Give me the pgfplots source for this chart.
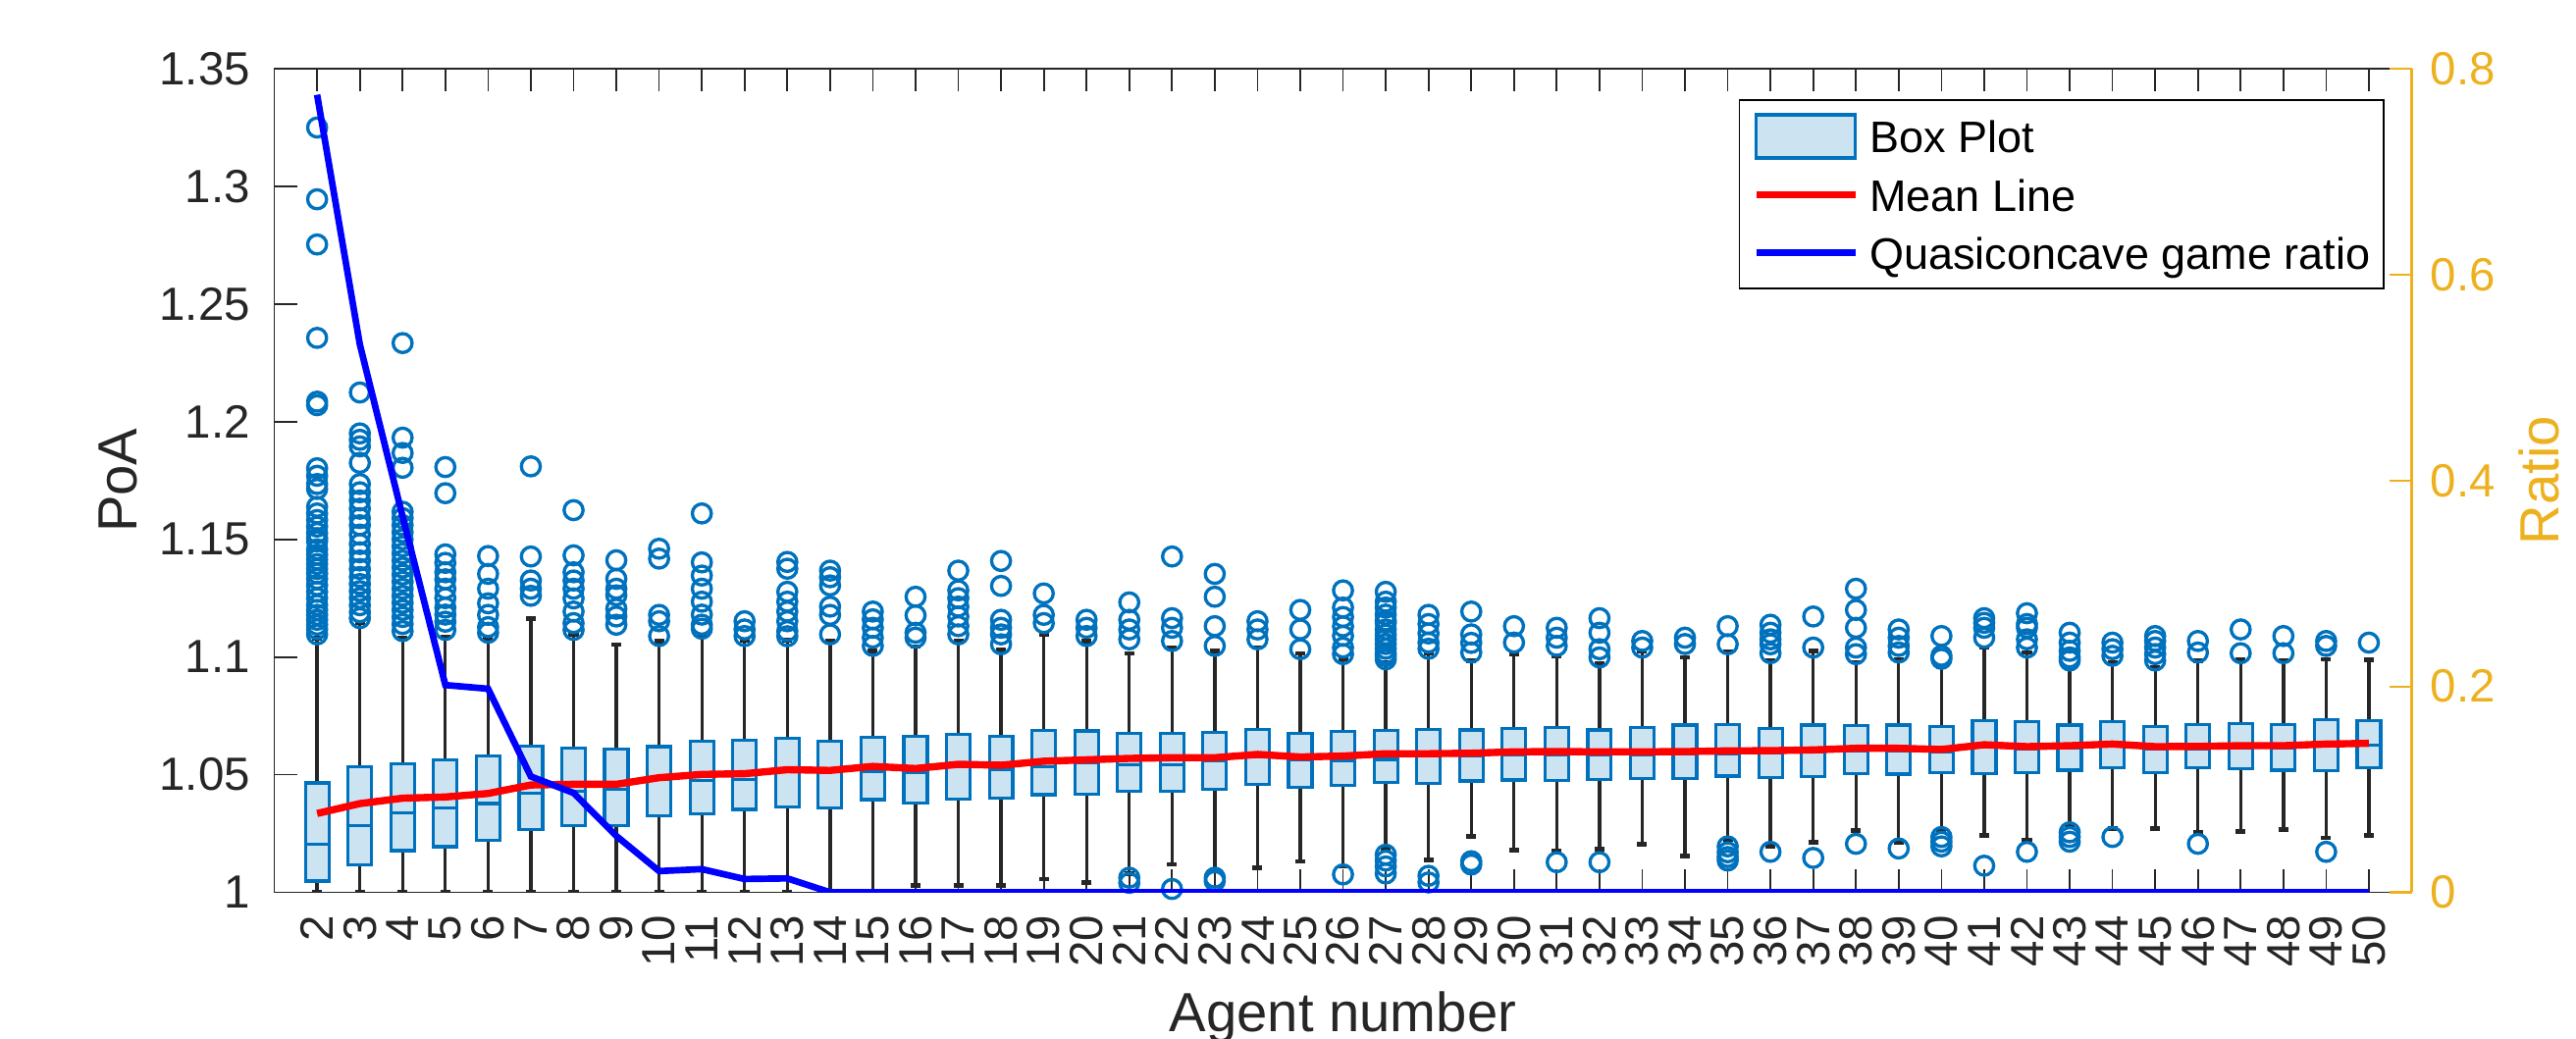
\documentclass[border=0pt]{standalone}
\usepackage{pgfplots}
\pgfplotsset{compat=1.18}
\usepackage{fontspec}
\setmainfont{Liberation Sans}
\definecolor{boxblue}{HTML}{0072BD}
\definecolor{boxfill}{HTML}{CCE3F2}
\definecolor{whisk}{HTML}{262626}
\definecolor{axgray}{HTML}{262626}
\definecolor{ratioc}{HTML}{EDB120}
\pgfplotsset{
  wsk/.style={draw=whisk, line width=0.95pt, mark=none},
  cap/.style={draw=whisk, line width=1.3pt, mark=none},
  bxs/.style={draw=boxblue, fill=boxfill, line width=0.9pt, mark=none},
  med/.style={draw=boxblue, line width=0.9pt, mark=none},
  outl/.style={only marks, mark=o, mark size=2.75pt,
    mark options={draw=boxblue, line width=0.95pt, fill=none}},
}
% #1 position, #2 lower whisker, #3 Q1, #4 median, #5 Q3, #6 upper whisker, #7 outliers
\newcommand{\bx}[7]{%
  \pgfmathsetmacro{\xl}{#1-0.275}%
  \pgfmathsetmacro{\xr}{#1+0.275}%
  \pgfmathsetmacro{\cl}{#1-0.115}%
  \pgfmathsetmacro{\cr}{#1+0.115}%
  \edef\doplots{%
    \noexpand\addplot[wsk] coordinates {(#1,#2) (#1,#3)};
    \noexpand\addplot[wsk] coordinates {(#1,#5) (#1,#6)};
    \noexpand\addplot[cap] coordinates {(\cl,#2) (\cr,#2)};
    \noexpand\addplot[cap] coordinates {(\cl,#6) (\cr,#6)};
    \noexpand\addplot[bxs] coordinates {(\xl,#3) (\xr,#3) (\xr,#5) (\xl,#5)} -- cycle;
    \noexpand\addplot[med] coordinates {(\xl,#4) (\xr,#4)};
  }\doplots
  \addplot[outl] table[row sep=\\, x expr=#1, y index=0] {data\\ #7};}
\begin{document}
\begin{tikzpicture}
\useasboundingbox (-27.96mm,-14.95mm) rectangle (234.55mm,90.95mm);
\begin{axis}[
  scale only axis, width=217.8mm, height=83.95mm,
  xmin=1, xmax=51, ymin=1, ymax=1.35,
  xtick={2,...,50},
  xtick pos=both, ytick pos=left,
  ytick={1,1.05,1.1,1.15,1.2,1.25,1.3,1.35},
  yticklabels={1,1.05,1.1,1.15,1.2,1.25,1.3,1.35},
  tick align=inside, major tick length=2.3mm,
  tick style={draw=axgray, line width=0.5pt},
  axis line style={draw=axgray, line width=0.5pt},
  /pgf/number format/assume math mode=true,
  every tick label/.append style={font=\fontsize{13.5}{15}\selectfont, text=axgray},
  xticklabel style={rotate=90, anchor=east, inner sep=0pt},
  xticklabel shift=2.25mm,
  yticklabel style={inner sep=0pt}, yticklabel shift=2.4mm,
  xlabel={Agent number}, ylabel={PoA},
  every axis x label/.style={at={(axis description cs:0.5,-0.1686)}, anchor=base,
    font=\fontsize{16}{19}\selectfont, text=axgray},
  every axis y label/.style={at={(axis description cs:-0.073,0.5)}, rotate=90,
    anchor=center, font=\fontsize{16}{19}\selectfont, text=axgray},
]
\bx{2}{1.0}{1.0048}{1.0203}{1.0465}{1.108}{1.325\\1.2945\\1.2753\\1.2356\\1.2085\\1.207\\1.1802\\1.177\\1.1735\\1.1714\\1.1638\\1.161\\1.1582\\1.1554\\1.1527\\1.1505\\1.1492\\1.1457\\1.1435\\1.1415\\1.1395\\1.1374\\1.1355\\1.1332\\1.1305\\1.1277\\1.125\\1.1221\\1.12\\1.1179\\1.1158\\1.1137\\1.1118\\1.1096\\}
\bx{3}{1.0}{1.0115}{1.0282}{1.0535}{1.1144}{1.2124\\1.195\\1.1923\\1.1895\\1.1825\\1.1735\\1.170\\1.1665\\1.163\\1.159\\1.156\\1.152\\1.148\\1.1445\\1.141\\1.1374\\1.134\\1.131\\1.128\\1.125\\1.122\\1.119\\1.1165\\}
\bx{4}{1.0}{1.0177}{1.0338}{1.0546}{1.108}{1.2334\\1.1932\\1.1867\\1.1804\\1.1617\\1.159\\1.156\\1.153\\1.15\\1.147\\1.144\\1.141\\1.138\\1.135\\1.132\\1.129\\1.126\\1.123\\1.12\\1.117\\1.114\\1.111\\}
\bx{5}{1.0}{1.0194}{1.036}{1.0563}{1.1085}{1.1807\\1.1696\\1.1436\\1.14\\1.136\\1.133\\1.129\\1.125\\1.121\\1.118\\1.115\\1.1115\\}
\bx{6}{1.0}{1.0222}{1.0377}{1.058}{1.108}{1.1429\\1.1353\\1.129\\1.1228\\1.1179\\1.1127\\1.1103\\}
\bx{7}{1.0}{1.0265}{1.042}{1.0622}{1.1162}{1.181\\1.1427\\1.1325\\1.129\\1.126\\}
\bx{8}{1.0}{1.0282}{1.0428}{1.0614}{1.1095}{1.1624\\1.1432\\1.136\\1.1325\\1.129\\1.1249\\1.1193\\1.1144\\1.1115\\}
\bx{9}{1.0}{1.0282}{1.0436}{1.0608}{1.1052}{1.1411\\1.1332\\1.129\\1.1262\\1.1205\\1.1172\\1.1137\\}
\bx{10}{1.0}{1.0324}{1.0481}{1.0619}{1.1068}{1.146\\1.1418\\1.1179\\1.1152\\1.1089\\}
\bx{11}{1.0}{1.0335}{1.0476}{1.0642}{1.1095}{1.161\\1.1402\\1.1346\\1.129\\1.1235\\1.118\\1.1137\\1.112\\}
\bx{12}{1.0}{1.0352}{1.0481}{1.0645}{1.107}{1.1152\\1.1117\\1.1089\\}
\bx{13}{1.0}{1.0363}{1.0518}{1.0653}{1.1071}{1.1404\\1.1375\\1.1277\\1.1235\\1.1193\\1.1152\\1.111\\1.1088\\}
\bx{14}{1.0}{1.0358}{1.0512}{1.0642}{1.1068}{1.1367\\1.1339\\1.1304\\1.1214\\1.1179\\1.1096\\}
\bx{15}{1.0}{1.0394}{1.0515}{1.0659}{1.1025}{1.1193\\1.116\\1.1124\\1.1082\\1.1047\\}
\bx{16}{1.0028}{1.038}{1.0509}{1.0662}{1.1045}{1.1256\\1.1177\\1.1103\\1.1082\\}
\bx{17}{1.0028}{1.0397}{1.0535}{1.0672}{1.1068}{1.1367\\1.1283\\1.125\\1.1214\\1.1172\\1.1131\\1.1096\\}
\bx{18}{1.0028}{1.0401}{1.0523}{1.0662}{1.103}{1.1408\\1.1302\\1.1158\\1.1124\\1.1096\\1.1054\\}
\bx{19}{1.0056}{1.0415}{1.0533}{1.0689}{1.1096}{1.127\\1.1179\\1.1144\\}
\bx{20}{1.0042}{1.0418}{1.055}{1.0686}{1.1068}{1.1158\\1.1124\\1.1089\\}
\bx{21}{1.008}{1.0429}{1.0543}{1.0677}{1.1015}{1.1232\\1.1158\\1.1117\\1.1075\\1.0062\\1.004\\}
\bx{22}{1.0118}{1.0431}{1.0543}{1.0677}{1.104}{1.1427\\1.1165\\1.1124\\1.1068\\1.0014\\}
\bx{23}{1.009}{1.0436}{1.056}{1.068}{1.1026}{1.1353\\1.1256\\1.1131\\1.1047\\1.0062\\1.0048\\}
\bx{24}{1.0104}{1.0457}{1.0575}{1.0693}{1.104}{1.1152\\1.1117\\1.1075\\}
\bx{25}{1.0131}{1.0447}{1.0565}{1.0677}{1.1015}{1.12\\1.1117\\1.1033\\}
\bx{26}{1.011}{1.0454}{1.0557}{1.0682}{1.0991}{1.1283\\1.121\\1.117\\1.113\\1.109\\1.104\\1.1012\\1.0076\\}
\bx{27}{1.0185}{1.0468}{1.0565}{1.0687}{1.0975}{1.1277\\1.1235\\1.121\\1.118\\1.1155\\1.1145\\1.1117\\1.1095\\1.1075\\1.1055\\1.1035\\1.1015\\1.1005\\1.099\\1.016\\1.0135\\1.011\\1.008\\}
\bx{28}{1.0137}{1.0464}{1.058}{1.0693}{1.1015}{1.1179\\1.114\\1.11\\1.1061\\1.1035\\1.007\\1.0042\\}
\bx{29}{1.0238}{1.0473}{1.058}{1.069}{1.0985}{1.1193\\1.1096\\1.106\\1.1019\\1.0132\\1.0118\\}
\bx{30}{1.0179}{1.0477}{1.0585}{1.0697}{1.1012}{1.1131\\1.1061\\}
\bx{31}{1.0175}{1.0475}{1.0585}{1.07}{1.1005}{1.1124\\1.1082\\1.1047\\1.0128\\}
\bx{32}{1.0183}{1.0479}{1.0585}{1.069}{1.0971}{1.1165\\1.1103\\1.1033\\1.0998\\1.0128\\}
\bx{33}{1.0205}{1.0484}{1.0585}{1.0701}{1.1024}{1.1068\\1.104\\}
\bx{34}{1.0154}{1.0484}{1.0588}{1.0711}{1.0998}{1.1082\\1.1055\\}
\bx{35}{1.0225}{1.0494}{1.059}{1.0714}{1.1024}{1.1131\\1.1054\\1.0195\\1.017\\1.015\\1.0135\\}
\bx{36}{1.0197}{1.0489}{1.0592}{1.0697}{1.0985}{1.1137\\1.1103\\1.1075\\1.1054\\1.1016\\1.0172\\}
\bx{37}{1.0213}{1.0491}{1.0595}{1.0711}{1.1026}{1.1172\\1.104\\1.0146\\}
\bx{38}{1.0262}{1.0505}{1.0602}{1.0707}{1.0978}{1.129\\1.12\\1.1124\\1.104\\1.1012\\1.0206\\}
\bx{39}{1.0213}{1.0502}{1.0602}{1.0711}{1.0991}{1.1117\\1.1082\\1.1047\\1.1019\\1.0186\\}
\bx{40}{1.0265}{1.0508}{1.0597}{1.0703}{1.0957}{1.1089\\1.1005\\1.0992\\1.0235\\1.0215\\1.0195\\}
\bx{41}{1.0241}{1.0505}{1.0617}{1.073}{1.104}{1.1165\\1.1145\\1.1124\\1.1082\\1.0113\\}
\bx{42}{1.0223}{1.0509}{1.0609}{1.0725}{1.102}{1.1186\\1.114\\1.1124\\1.1075\\1.104\\1.0172\\}
\bx{43}{1.028}{1.0519}{1.0613}{1.0711}{1.0957}{1.1103\\1.1061\\1.1026\\1.0998\\1.0985\\1.0255\\1.0235\\1.0215\\}
\bx{44}{1.027}{1.0529}{1.062}{1.0725}{1.0978}{1.1061\\1.1033\\1.1005\\1.0235\\}
\bx{45}{1.0272}{1.0509}{1.0609}{1.0703}{1.0957}{1.1089\\1.1068\\1.104\\1.1012\\1.0985\\}
\bx{46}{1.0255}{1.0529}{1.061}{1.0714}{1.0985}{1.1068\\1.1019\\1.0206\\}
\bx{47}{1.0258}{1.0526}{1.0613}{1.0716}{1.099}{1.1117\\1.1016\\}
\bx{48}{1.0266}{1.0519}{1.0613}{1.0714}{1.0985}{1.1089\\1.1016\\}
\bx{49}{1.0231}{1.0516}{1.062}{1.0732}{1.0991}{1.1068\\1.1047\\1.0172\\}
\bx{50}{1.0241}{1.0529}{1.0627}{1.073}{1.0987}{1.1061\\}
\addplot[red, line width=2.1pt, mark=none] coordinates {
(2,1.0335) (3,1.0377) (4,1.04) (5,1.0405) (6,1.042) (7,1.0456) (8,1.0459) (9,1.0459)
(10,1.0487) (11,1.0501) (12,1.0504) (13,1.0521) (14,1.0518) (15,1.0535) (16,1.0526)
(17,1.0544) (18,1.054) (19,1.0557) (20,1.0563) (21,1.0569) (22,1.0572) (23,1.0572)
(24,1.0586) (25,1.0575) (26,1.0579) (27,1.0589) (28,1.0589) (29,1.0591) (30,1.0597)
(31,1.0598) (32,1.0597) (33,1.0597) (34,1.0598) (35,1.0601) (36,1.0602) (37,1.0605)
(38,1.0612) (39,1.0612) (40,1.0607) (41,1.0627) (42,1.0619) (43,1.0623) (44,1.063)
(45,1.0619) (46,1.062) (47,1.0623) (48,1.0623) (49,1.063) (50,1.0633)};
\end{axis}
\begin{axis}[
  scale only axis, width=217.8mm, height=83.95mm,
  xmin=1, xmax=51, ymin=0, ymax=0.8,
  axis x line=none, axis y line*=right,
  ytick={0,0.2,0.4,0.6,0.8}, yticklabels={0,0.2,0.4,0.6,0.8},
  tick align=inside, major tick length=2.3mm,
  y axis line style={draw=ratioc, line width=0.6pt},
  ytick style={draw=ratioc, line width=0.6pt},
  yticklabel style={text=ratioc, font=\fontsize{13.5}{15}\selectfont, inner sep=0pt},
  yticklabel shift=1.85mm,
  ylabel={Ratio},
  every axis y label/.style={at={(axis description cs:1.0597,0.5)}, rotate=90,
    anchor=center, font=\fontsize{16}{19}\selectfont, text=ratioc},
  legend cell align=left,
  legend style={at={(1,1)}, anchor=north east, xshift=-2.75mm, yshift=-3.1mm,
    draw=black, line width=0.5pt, fill=white,
    font=\fontsize{12.8}{15}\selectfont,
    inner xsep=1.36mm, inner ysep=1.35mm, row sep=1.3mm, column sep=1.1mm,
    nodes={inner sep=0pt, text height=3.3mm, text depth=0pt, minimum height=4.6mm}},
  legend image code/.code={\draw[#1] (0mm,0mm) -- (10.1mm,0mm);},
]
\addlegendimage{legend image code/.code={\draw[draw=boxblue, fill=boxfill, line width=0.9pt] (0mm,-2.2mm) rectangle (10.1mm,2.2mm);}}
\addlegendentry{Box Plot}
\addlegendimage{red, line width=2.1pt}
\addlegendentry{Mean Line}
\addplot[blue, line width=1.9pt, mark=none] coordinates {
(2,0.7747) (3,0.532) (4,0.365) (5,0.2013) (6,0.1977) (7,0.1125) (8,0.0965) (9,0.0547)
(10,0.0206) (11,0.0225) (12,0.0129) (13,0.0135) (14,0) (15,0) (16,0) (17,0) (18,0)
(19,0) (20,0) (21,0) (22,0) (23,0) (24,0) (25,0) (26,0) (27,0) (28,0) (29,0) (30,0)
(31,0) (32,0) (33,0) (34,0) (35,0) (36,0) (37,0) (38,0) (39,0) (40,0) (41,0) (42,0)
(43,0) (44,0) (45,0) (46,0) (47,0) (48,0) (49,0) (50,0)};
\addlegendentry{Quasiconcave game ratio}
\end{axis}
\end{tikzpicture}
\end{document}
